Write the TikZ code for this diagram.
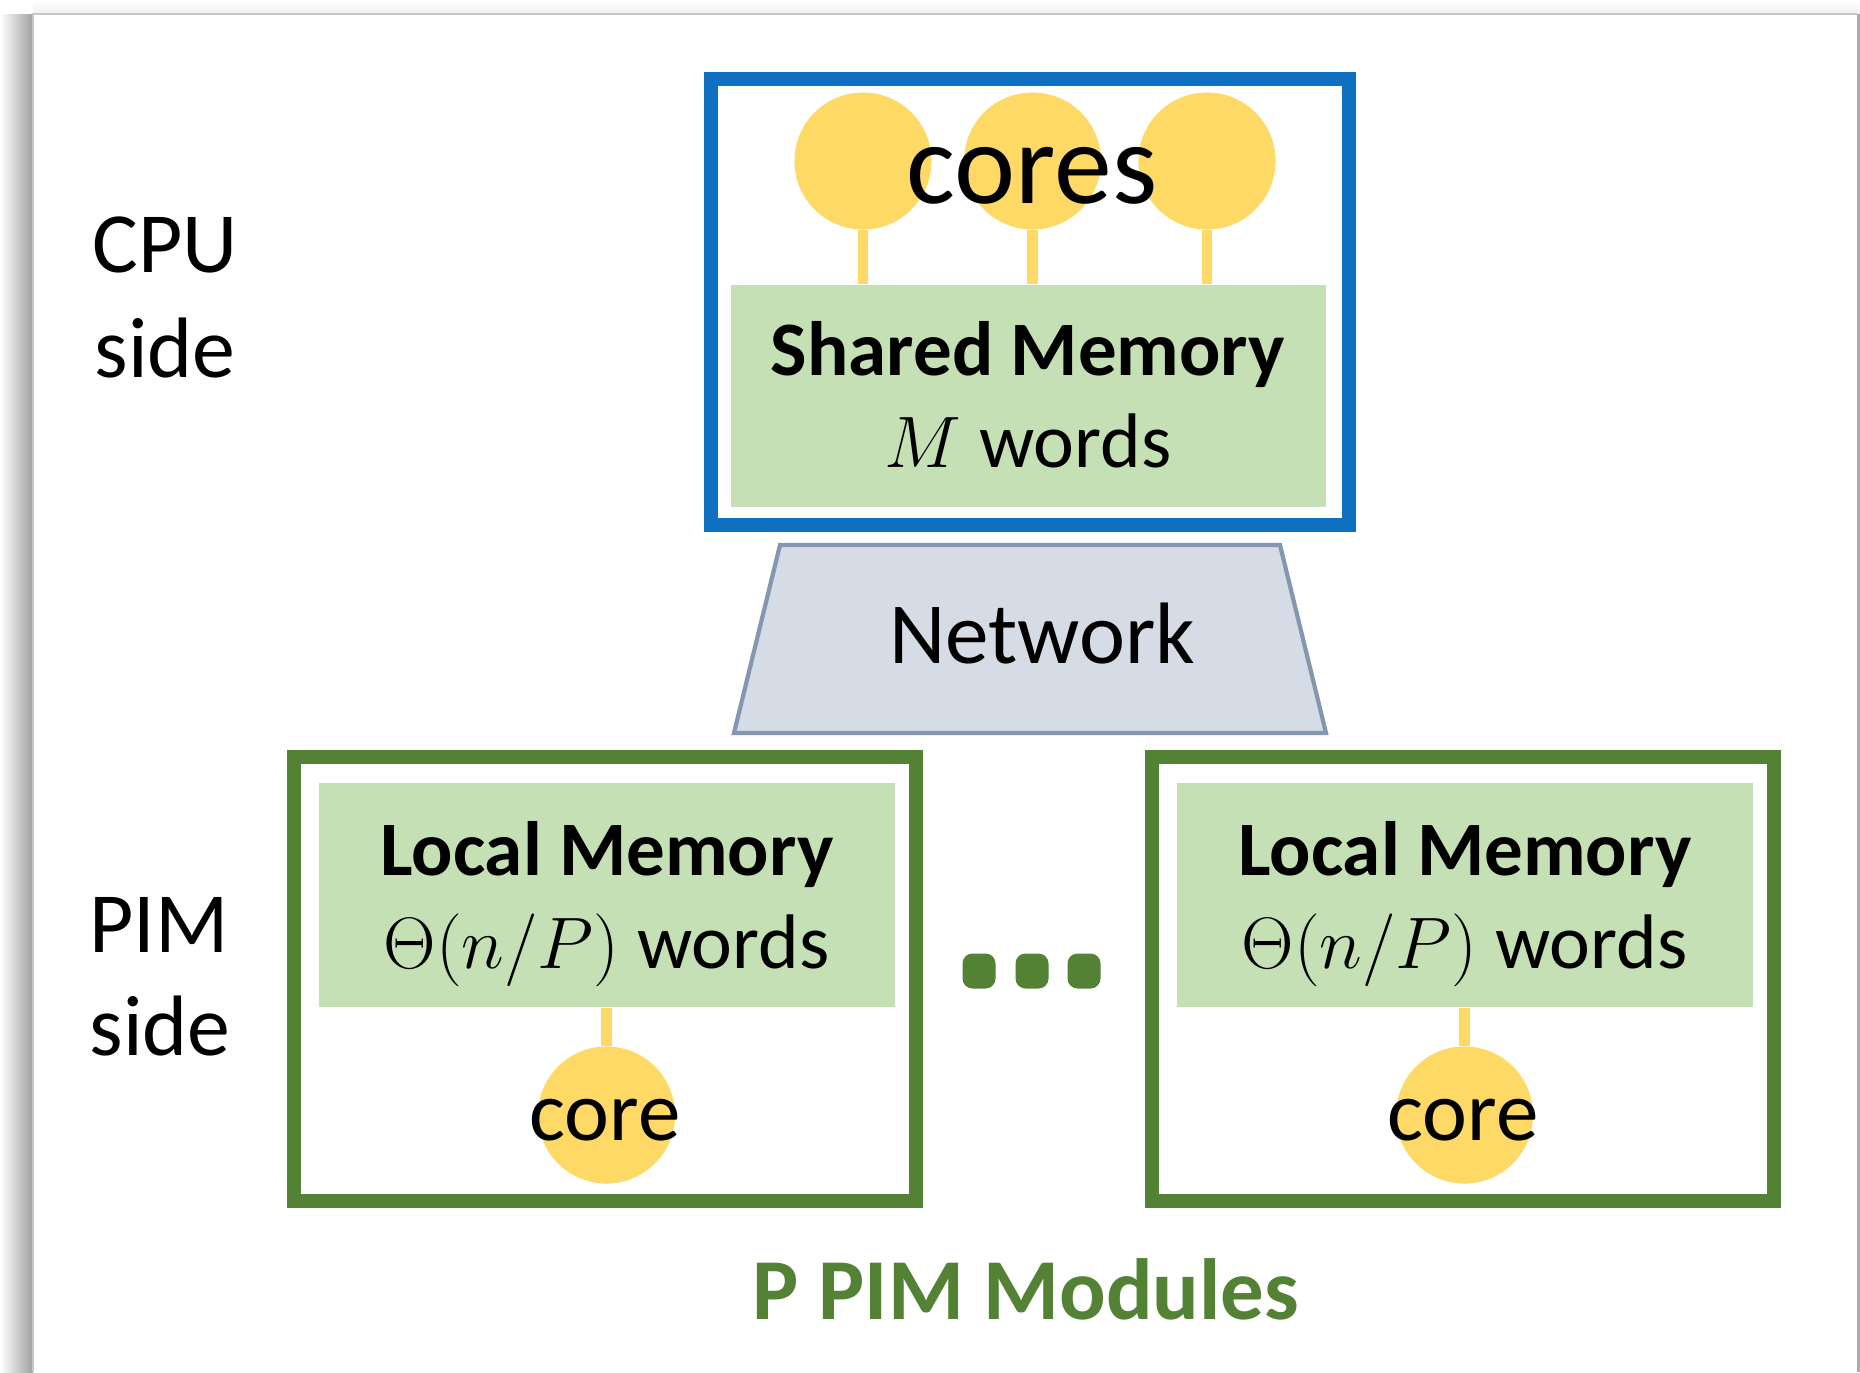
\documentclass[tikz,border=0pt]{standalone}
\usepackage{fontspec}
\setmainfont{Carlito}

\definecolor{coreyellow}{HTML}{FFD966}
\definecolor{memgreen}{HTML}{C5E0B4}
\definecolor{cpublue}{HTML}{1070C0}
\definecolor{pimgreen}{HTML}{548235}
\definecolor{netfill}{HTML}{D6DCE5}
\definecolor{netdraw}{HTML}{8497B0}

\tikzset{
  txt/.style={inner sep=0pt, anchor=base},
  sidefont/.style={font=\fontsize{24.4}{29}\selectfont},
  titlefont/.style={font=\fontsize{21.9}{26}\selectfont\bfseries},
  wordsfont/.style={font=\fontsize{22}{26}\selectfont},
  corenode/.style={circle, fill=coreyellow, inner sep=0pt, minimum size=1.37cm},
  membox/.style={fill=memgreen, inner sep=0pt},
  stem/.style={coreyellow, line width=3.1pt},
  cpubox/.style={draw=cpublue, line width=4pt, fill=white},
  pimbox/.style={draw=pimgreen, line width=4pt, fill=white},
}

\begin{document}
\begin{tikzpicture}[x=0.01cm, y=-0.01cm]
  \useasboundingbox (0,0) rectangle (1860,1372);
  % page with its shadow
  \shade[left color=white, right color=gray!75] (0,14) rectangle (33,1372);
  \shade[top color=white, bottom color=gray!12] (33,0) rectangle (1860,14);
  \fill[white] (33,14) rectangle (1857,1372);
  \draw[gray!45, line width=0.6pt] (33,1372) -- (33,14) -- (1857,14);
  \fill[gray!65] (1857,14) rectangle (1860,1372);

  % side labels
  \node[txt, sidefont] (cpulbl) at (165,272) {CPU};
  \node[txt, sidefont] (cpuside) at (165,377) {side};
  \node[txt, sidefont] (pimlbl) at (159,952) {PIM};
  \node[txt, sidefont] (pimside) at (160,1055) {side};

  % CPU side
  \node[cpubox, minimum width=6.38cm, minimum height=4.46cm] (cpu) at (1030,302) {};
  \node[membox, minimum width=5.95cm, minimum height=2.22cm] (shmem) at (1028.5,396) {};
  \foreach \i/\x in {1/863, 2/1032.5, 3/1207} {
    \node[corenode] (core\i) at (\x,161) {};
    \draw[stem] (core\i.south) -- (core\i.south |- shmem.north);
  }
  \node[txt, font=\fontsize{32.9}{38}\selectfont] (cores) at (1032,203) {cores};
  \node[txt, titlefont] (shtitle) at (1028,375) {Shared Memory};
  \node[txt, wordsfont] (shwords) at (1028,467) {$M$ words};

  % network
  \draw[fill=netfill, draw=netdraw, line width=1.2pt]
    (780,545) -- (1280,545) -- (1326,733) -- (734,733) -- cycle;
  \node[txt, font=\fontsize{24.8}{29}\selectfont] (net) at (1042,663) {Network};

  % PIM modules
  \foreach \i/\x in {1/605, 2/1463} {
    \node[pimbox, minimum width=6.22cm, minimum height=4.44cm] (pim\i) at (\x,979) {};
    \node[membox, minimum width=5.75cm, minimum height=2.24cm] (lmem\i) at (\x+2,895) {};
    \node[corenode] (pcore\i) at (\x+1.5,1115) {};
    \draw[stem] (pcore\i.north) -- (pcore\i.north |- lmem\i.south);
    \node[txt, titlefont] (ltitle\i) at (\x+2,875) {Local Memory};
    \node[txt, wordsfont] (lwords\i) at (\x+1.5,968) {$\Theta(n/P)$ words};
    \node[txt, font=\fontsize{24.2}{29}\selectfont] (pcoretxt\i) at (\x,1140) {core};
  }

  \foreach \i/\x in {1/979, 2/1032, 3/1084}
    \node[fill=pimgreen, rounded corners=0.1cm, inner sep=0pt,
      minimum width=0.33cm, minimum height=0.35cm] (dot\i) at (\x,971) {};

  \node[txt, font=\fontsize{24.7}{29}\selectfont\bfseries, text=pimgreen]
    (modules) at (1026,1319) {P PIM Modules};
\end{tikzpicture}
\end{document}
